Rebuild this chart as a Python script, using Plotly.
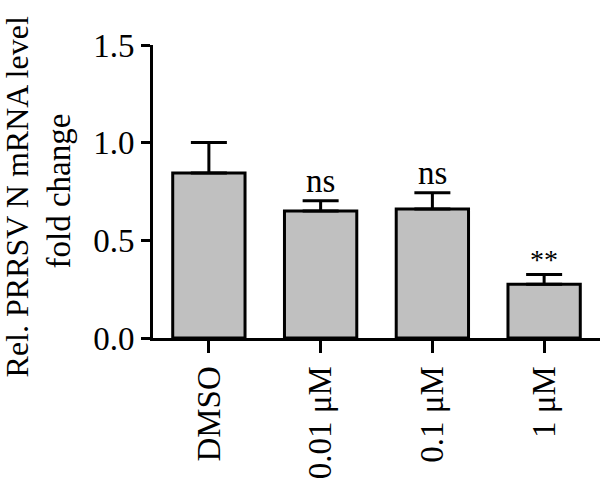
import plotly.graph_objects as go

categories = ["DMSO", "0.01 μM", "0.1 μM", "1 μM"]
means = [0.845, 0.650, 0.660, 0.275]
errors = [0.156, 0.053, 0.084, 0.050]
labels = ["", "ns", "ns", "**"]
y_ticks = [0.0, 0.5, 1.0, 1.5]
y_tick_text = ["0.0", "0.5", "1.0", "1.5"]
title_lines = ["Rel. PRRSV N mRNA level", "fold change"]

FONT = "Liberation Serif"
PLOT_L, PLOT_W, PLOT_T, PLOT_H = 153, 447, 45, 296

fig = go.Figure()
fig.add_trace(go.Bar(
    x=categories,
    y=means,
    marker=dict(color="#c0c0c0", line=dict(color="black", width=3)),
    error_y=dict(type="data", symmetric=False, array=errors,
                 arrayminus=[0] * len(errors),
                 color="black", thickness=3, width=18),
))

for cat, m, e, lab in zip(categories, means, errors, labels):
    if lab:
        fig.add_annotation(x=cat, y=m + e, text=lab, showarrow=False,
                           yanchor="middle", yshift=20 if lab == "ns" else 15,
                           font=dict(family=FONT, size=33 if lab == "ns" else 28,
                                     color="black"))

# y-axis title, two lines (px centres converted to paper coords)
for (cx, cy, fs), line in zip([(17, 199, 32), (58, 193, 33)], title_lines):
    fig.add_annotation(xref="paper", yref="paper",
                       x=(cx - PLOT_L) / PLOT_W, y=1 - (cy - PLOT_T) / PLOT_H,
                       text=line, textangle=-90, showarrow=False,
                       xanchor="center", yanchor="middle",
                       font=dict(family=FONT, size=fs, color="black"))

fig.update_layout(
    width=600, height=479,
    margin=dict(l=PLOT_L, r=0, t=PLOT_T, b=479 - PLOT_T - PLOT_H),
    plot_bgcolor="white", paper_bgcolor="white",
    bargap=0.353,
    showlegend=False,
    font=dict(family=FONT, size=33, color="black"),
)
fig.update_xaxes(
    range=[-0.5, 3.5], showline=True, linecolor="black", linewidth=3,
    ticks="outside", ticklen=12, tickwidth=3, tickcolor="black",
    tickangle=-90, showgrid=False, zeroline=False,
    tickfont=dict(family=FONT, size=33, color="black"),
)
fig.update_yaxes(
    range=[0, 1.5], showline=True, linecolor="black", linewidth=3,
    ticks="outside", ticklen=9, tickwidth=3, tickcolor="black",
    tickvals=y_ticks, ticktext=y_tick_text, showgrid=False, zeroline=False,
    tickfont=dict(family=FONT, size=33, color="black"),
)

fig.write_html("out.html")
